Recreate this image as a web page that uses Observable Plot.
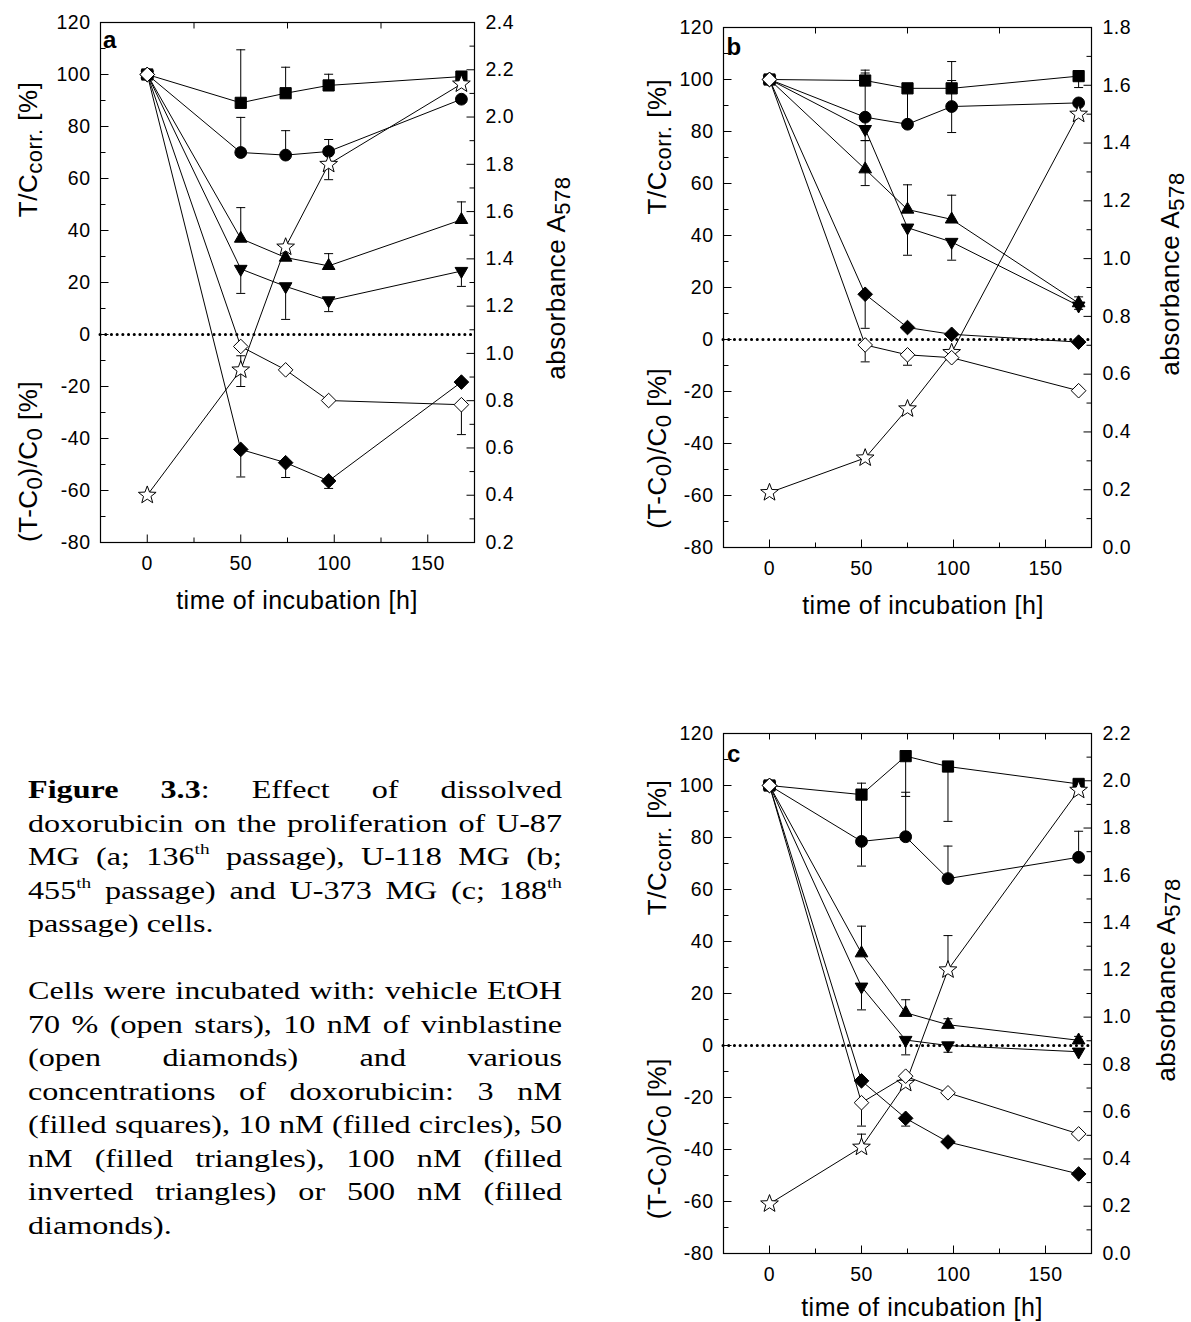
<!DOCTYPE html>
<html>
<head>
<meta charset="utf-8">
<script src="https://cdn.jsdelivr.net/npm/d3@7"></script>
<script src="https://cdn.jsdelivr.net/npm/@observablehq/plot@0.6"></script>
<style>
  html, body { margin:0; padding:0; background:#fff; }
  #page { position:relative; width:1191px; height:1322px; overflow:hidden; background:#fff; }
  .panel { position:absolute; }
  .panel svg { overflow: visible; }
  #caption { position:absolute; left:28px; top:773px; font-family:"Liberation Serif","Times New Roman",Times,serif; font-size:26px; color:#000; transform-origin:0 0; }
  #caption .ln { height:33.5px; line-height:33.5px; white-space:normal; }
  #caption .j { text-align:justify; text-align-last:justify; }
  #caption .l { text-align:left; }
  #caption .sup { font-size:0.6em; position:relative; top:-0.7em; line-height:0; }
</style>
</head>
<body>
<div id="page">
  <div id="pa" class="panel" style="left:0;top:0"></div>
  <div id="pb" class="panel" style="left:600px;top:0"></div>
  <div id="pc" class="panel" style="left:600px;top:700px"></div>
  <div id="caption"></div>
</div>
<script>
// ================= DATA =================
const xTickLabels = [0, 50, 100, 150];
const yTickLabels = [-80, -60, -40, -20, 0, 20, 40, 60, 80, 100, 120];

const hours_a = [0, 50, 74, 97, 168];
const hours_b = [0, 52, 75, 99, 168];
const hours_c = [0, 50, 74, 97, 168];

// right-axis (absorbance A578) tick labels
const absTicks_a = [0.2, 0.4, 0.6, 0.8, 1.0, 1.2, 1.4, 1.6, 1.8, 2.0, 2.2, 2.4];
const absTicks_b = [0.0, 0.2, 0.4, 0.6, 0.8, 1.0, 1.2, 1.4, 1.6, 1.8];
const absTicks_c = [0.0, 0.2, 0.4, 0.6, 0.8, 1.0, 1.2, 1.4, 1.6, 1.8, 2.0, 2.2];

// ---- panel a (U-87 MG) : T/C corr. or (T-C0)/C0 in % ----
const a_square    = [100, 89.1, 92.8, 95.8, 99.2];
const a_square_hi = [null, 109.5, 102.8, 100.1, null];
const a_circle    = [100, 70.0, 69.0, 70.4, 90.5];
const a_circle_hi = [null, 83.5, 78.4, 75.0, null];
const a_triUp     = [100, 36.9, 29.6, 26.4, 44.1];
const a_triUp_hi  = [null, 48.8, null, 31.1, 51.0];
const a_triDown   = [100, 25.2, 18.5, 13.1, 24.4];
const a_triDown_lo= [null, 15.8, 5.8, 8.8, 18.5];
const a_diaFill   = [100, -44.2, -49.3, -56.3, -18.3];
const a_diaFill_lo= [null, -54.8, -55.0, -59.2, null];
const a_diaOpen   = [100, -4.6, -13.6, -25.4, -27.0];
const a_diaOpen_lo= [null, null, null, null, -38.5];
// vehicle control (absorbance A578, right axis)
const a_star      = [0.40, 0.93, 1.45, 1.80, 2.14];
const a_star_hi   = [null, 0.99, null, null, null];
const a_star_lo   = [null, 0.86, null, 1.735, null];

// ---- panel b (U-118 MG) ----
const b_square    = [100, 99.6, 96.6, 96.6, 101.3];
const b_square_hi = [null, 103.6, null, 106.9, null];
const b_square_lo = [null, null, 83.0, null, 96.9];
const b_circle    = [100, 85.5, 82.8, 89.6, 91.0];
const b_circle_hi = [null, 102.5, null, 99.6, null];
const b_circle_lo = [null, null, null, 79.6, null];
const b_triUp     = [100, 65.5, 50.0, 46.2, 14.0];
const b_triUp_hi  = [null, 76.5, 59.5, 55.5, 16.4];
const b_triUp_lo  = [null, 59.2, null, null, null];
const b_triDown   = [100, 80.9, 43.0, 37.5, 13.0];
const b_triDown_hi= [null, 85.5, null, null, null];
const b_triDown_lo= [null, 76.5, 32.4, 30.5, 11.6];
const b_diaFill   = [100, 17.4, 4.6, 2.0, -1.0];
const b_diaFill_lo= [null, 4.3, null, null, null];
const b_diaOpen   = [100, -2.1, -5.9, -7.0, -19.7];
const b_diaOpen_lo= [null, -8.6, -9.9, null, null];
const b_star      = [0.19, 0.31, 0.48, 0.675, 1.50];

// ---- panel c (U-373 MG) ----
const c_square    = [100, 96.5, 111.3, 107.3, 100.6];
const c_square_hi = [null, 100.9, null, null, null];
const c_square_lo = [null, 78.5, 95.8, 86.2, null];
const c_circle    = [100, 78.5, 80.3, 64.2, 72.4];
const c_circle_hi = [null, null, 97.4, 76.7, 82.4];
const c_circle_lo = [null, 69.0, null, null, null];
const c_triUp     = [100, 35.5, 12.6, 8.0, 2.0];
const c_triUp_hi  = [null, 45.9, 17.6, 10.3, 3.5];
const c_triDown   = [100, 22.6, 2.1, 0.0, -2.4];
const c_triDown_lo= [null, 13.7, -3.6, -2.6, null];
const c_diaFill   = [100, -13.6, -28.0, -37.1, -49.4];
const c_diaFill_lo= [null, null, -31.0, null, null];
const c_diaOpen   = [100, -22.0, -11.8, -18.2, -34.0];
const c_diaOpen_lo= [null, -31.0, null, null, null];
const c_star      = [0.21, 0.45, 0.72, 1.20, 1.96];
const c_star_hi   = [null, 0.505, null, 1.345, null];

const captionLines = [
  ["j", "<b>Figure 3.3</b>: Effect of dissolved"],
  ["j", "doxorubicin on the proliferation of U-87"],
  ["j", "MG (a; 136<span class=\"sup\">th</span> passage), U-118 MG (b;"],
  ["j", "455<span class=\"sup\">th</span> passage) and U-373 MG (c; 188<span class=\"sup\">th</span>"],
  ["l", "passage) cells."],
  ["b", ""],
  ["j", "Cells were incubated with: vehicle EtOH"],
  ["j", "70 % (open stars), 10 nM of vinblastine"],
  ["j", "(open diamonds) and various"],
  ["j", "concentrations of doxorubicin: 3 nM"],
  ["j", "(filled squares), 10 nM (filled circles), 50"],
  ["j", "nM (filled triangles), 100 nM (filled"],
  ["j", "inverted triangles) or 500 nM (filled"],
  ["l", "diamonds)."]
];

// ================= SYMBOLS =================
const FONT = "'Liberation Sans', Arial, Helvetica, sans-serif";
const rad = s => Math.sqrt(s / Math.PI);
const symSquare = { draw(c, s) { const r = rad(s); c.rect(-r, -r, 2 * r, 2 * r); } };
const symTriUp = { draw(c, s) { const r = rad(s); c.moveTo(0, -r); c.lineTo(r * 0.866, r / 2); c.lineTo(-r * 0.866, r / 2); c.closePath(); } };
const symTriDown = { draw(c, s) { const r = rad(s); c.moveTo(0, r); c.lineTo(r * 0.866, -r / 2); c.lineTo(-r * 0.866, -r / 2); c.closePath(); } };
const symDiamond = { draw(c, s) { const r = rad(s); c.moveTo(0, -r); c.lineTo(r, 0); c.lineTo(0, r); c.lineTo(-r, 0); c.closePath(); } };
const symStar = { draw(c, s) {
  const R = rad(s), ri = R * 0.42;
  for (let i = 0; i < 10; i++) {
    const a = -Math.PI / 2 + i * Math.PI / 5, rr = i % 2 ? ri : R;
    const x = rr * Math.cos(a), y = rr * Math.sin(a);
    i ? c.lineTo(x, y) : c.moveTo(x, y);
  }
  c.closePath();
} };
const symCap = { draw(c) { c.moveTo(-4.5, 0); c.lineTo(4.5, 0); } };
const tickSym = (dx, dy) => ({ draw(c) { c.moveTo(0, 0); c.lineTo(dx, dy); } });

const STYLE = {
  square:   { symbol: symSquare,  r: 5.6, fill: "black" },
  circle:   { symbol: "circle",   r: 5.9, fill: "black" },
  triUp:    { symbol: symTriUp,   r: 7.3, fill: "black" },
  triDown:  { symbol: symTriDown, r: 7.3, fill: "black" },
  diaFill:  { symbol: symDiamond, r: 7.3, fill: "black" },
  star:     { symbol: symStar,    r: 9.3, fill: "white" },
  diaOpen:  { symbol: symDiamond, r: 7.3, fill: "white" }
};
const ORDER = ["square", "circle", "triUp", "triDown", "diaFill", "star", "diaOpen"];

function addTitle(svg, x, y, rotate, parts, size) {
  const t = d3.select(svg).append("text")
    .attr("transform", `translate(${x},${y})` + (rotate ? " rotate(-90)" : ""))
    .attr("text-anchor", "middle").attr("dy", "0.35em")
    .attr("font-family", FONT).attr("font-size", size).attr("fill", "black")
    .attr("letter-spacing", "0.5px").style("white-space", "pre");
  let shifted = false;
  for (const [txt, sub] of parts) {
    const ts = t.append("tspan").text(txt);
    if (sub) { ts.attr("font-size", size * 0.85); if (!shifted) { ts.attr("dy", 5); shifted = true; } }
    else if (shifted) { ts.attr("dy", -5); shifted = false; }
  }
}

function buildPanel(el, cfg) {
  const [amin, amax] = [cfg.absTicks[0], cfg.absTicks[cfg.absTicks.length - 1]];
  const toLeft = a => -80 + (a - amin) / (amax - amin) * 200;
  const fromLeft = v => amin + (v + 80) / 200 * (amax - amin);
  const pts = [], errs = [];
  for (const s of cfg.series) {
    const conv = s.key === "star" ? toLeft : (v => v);
    s.values.forEach((v, i) => {
      const t = cfg.hours[i];
      pts.push({ key: s.key, t, v: conv(v) });
      if (s.hi && s.hi[i] != null) errs.push({ t, y1: conv(v), y2: conv(s.hi[i]) });
      if (s.lo && s.lo[i] != null) errs.push({ t, y1: conv(v), y2: conv(s.lo[i]) });
    });
  }
  const xMin = -25, xMax = 175, yMin = yTickLabels[0], yMax = yTickLabels[yTickLabels.length - 1];
  const yMajor = yTickLabels.slice(1, -1);
  const yMinor = yTickLabels.slice(0, -1).map(v => v + 10);
  const rMajor = cfg.absTicks.slice(1, -1).map(toLeft);
  const rMinor = cfg.absTicks.slice(0, -1).map((a, i) => toLeft((a + cfg.absTicks[i + 1]) / 2));
  const xMajor = xTickLabels, xMinor = [25, 75, 125];
  const topT = cfg.topAll ? [...xMajor, ...xMinor] : xMinor;

  const tickDot = (data, x, y, sym) => Plot.dot(data, { x, y, symbol: sym, r: 1, stroke: "black", fill: "none", strokeWidth: 1 });

  const marks = [
    Plot.ruleY([0], { stroke: "black", strokeWidth: 3, strokeDasharray: "0.1,5.6", strokeLinecap: "round" }),
    Plot.line(pts, { x: "t", y: "v", z: "key", stroke: "black", strokeWidth: 1 }),
    Plot.ruleX(errs, { x: "t", y1: "y1", y2: "y2", stroke: "black", strokeWidth: 1 }),
    Plot.dot(errs, { x: "t", y: "y2", symbol: symCap, r: 1, stroke: "black", fill: "none", strokeWidth: 1 }),
    ...ORDER.map(k => Plot.dot(pts.filter(d => d.key === k), {
      x: "t", y: "v", symbol: STYLE[k].symbol, r: STYLE[k].r, fill: STYLE[k].fill, stroke: "black", strokeWidth: 1
    })),
    tickDot(yMajor, () => xMin, d => d, tickSym(8, 0)),
    tickDot(yMinor, () => xMin, d => d, tickSym(5, 0)),
    tickDot(rMajor, () => xMax, d => d, tickSym(-8, 0)),
    tickDot(rMinor, () => xMax, d => d, tickSym(-5, 0)),
    tickDot(xMajor, d => d, () => yMin, tickSym(0, -8)),
    tickDot(xMinor, d => d, () => yMin, tickSym(0, -5)),
    tickDot(topT, d => d, () => yMax, tickSym(0, 6)),
    Plot.frame({ stroke: "black", strokeWidth: 1.2 }),
    Plot.axisX({ ticks: xTickLabels, tickSize: 0, tickPadding: 14, tickFormat: d => String(d), label: null }),
    Plot.axisY({ anchor: "left", ticks: yTickLabels, tickSize: 0, tickPadding: 10, tickFormat: d => String(d), label: null }),
    Plot.axisY({ anchor: "right", ticks: cfg.absTicks.map(toLeft), tickSize: 0, tickPadding: 11, tickFormat: d => fromLeft(d).toFixed(1), label: null })
  ];

  const plot = Plot.plot({
    width: cfg.W, height: cfg.H,
    marginLeft: cfg.mL, marginRight: cfg.mR, marginTop: cfg.mT, marginBottom: cfg.mB,
    x: { domain: [xMin, xMax] }, y: { domain: [yMin, yMax] },
    style: { fontFamily: FONT, fontSize: "19.5px", color: "black", background: "transparent", overflow: "visible", letterSpacing: "0.5px" },
    marks
  });
  el.appendChild(plot);
  const X = plot.scale("x"), Y = plot.scale("y");
  const fx0 = X.apply(xMin), fx1 = X.apply(xMax), fy0 = Y.apply(yMax), fy1 = Y.apply(yMin);
  d3.select(plot).append("text").attr("x", fx0 + cfg.letterDx).attr("y", fy0 + cfg.letterDy)
    .attr("font-family", FONT).attr("font-weight", "bold").attr("font-size", 24).attr("fill", "black").text(cfg.letter);
  addTitle(plot, (fx0 + fx1) / 2 + cfg.xTitleDx, fy1 + cfg.xTitleDy, false, [["time of incubation [h]"]], 25);
  addTitle(plot, cfg.leftX, Y.apply(cfg.tcAt), true, [["T/C"], ["corr.", 1], [" [%]"]], 26);
  addTitle(plot, cfg.leftX, Y.apply(cfg.t0At), true, [["(T-C"], ["0", 1], [")/C"], ["0", 1], [" [%]"]], 26);
  addTitle(plot, cfg.rightX, Y.apply(cfg.absAt), true, [["absorbance A"], ["578", 1]], 26);
}

const registry = {
  a_square, a_square_hi, a_circle, a_circle_hi, a_triUp, a_triUp_hi, a_triDown, a_triDown_lo, a_diaFill, a_diaFill_lo, a_diaOpen, a_diaOpen_lo, a_star, a_star_hi, a_star_lo,
  b_square, b_square_hi, b_square_lo, b_circle, b_circle_hi, b_circle_lo, b_triUp, b_triUp_hi, b_triUp_lo, b_triDown, b_triDown_hi, b_triDown_lo, b_diaFill, b_diaFill_lo, b_diaOpen, b_diaOpen_lo, b_star,
  c_square, c_square_hi, c_square_lo, c_circle, c_circle_hi, c_circle_lo, c_triUp, c_triUp_hi, c_triDown, c_triDown_lo, c_diaFill, c_diaFill_lo, c_diaOpen, c_diaOpen_lo, c_star, c_star_hi
};
function series(p) {
  return ORDER.map(k => ({ key: k, values: registry[`${p}_${k}`], hi: registry[`${p}_${k}_hi`] || null, lo: registry[`${p}_${k}_lo`] || null }));
}

buildPanel(document.getElementById("pa"), {
  W: 600, H: 640, mL: 100, mR: 126, mT: 22, mB: 98,
  hours: hours_a, absTicks: absTicks_a, series: series("a"), topAll: false,
  letter: "a", letterDx: 10, letterDy: 26, xTitleDx: 10, xTitleDy: 58,
  leftX: 28, rightX: 556, tcAt: 71, t0At: -49, absAt: 21.5
});
buildPanel(document.getElementById("pb"), {
  W: 591, H: 640, mL: 123, mR: 100, mT: 27, mB: 93,
  hours: hours_b, absTicks: absTicks_b, series: series("b"), topAll: false,
  letter: "b", letterDx: 11, letterDy: 28, xTitleDx: 16, xTitleDy: 58,
  leftX: 57, rightX: 570, tcAt: 74, t0At: -42, absAt: 25
});
buildPanel(document.getElementById("pc"), {
  W: 591, H: 622, mL: 123, mR: 100, mT: 33, mB: 69,
  hours: hours_c, absTicks: absTicks_c, series: series("c"), topAll: true,
  letter: "c", letterDx: 11, letterDy: 29, xTitleDx: 15, xTitleDy: 54,
  leftX: 57, rightX: 566, tcAt: 76, t0At: -36, absAt: 25
});

// ================= CAPTION =================
(function () {
  const CAPTION_WIDTH = 534;
  const capEl = document.getElementById("caption");
  const meas = document.createElement("span");
  meas.style.cssText = "position:absolute;visibility:hidden;white-space:nowrap;";
  capEl.appendChild(meas);
  let maxW = 0;
  for (const [kind, html] of captionLines) {
    if (kind === "j") { meas.innerHTML = html; maxW = Math.max(maxW, meas.getBoundingClientRect().width); }
  }
  capEl.removeChild(meas);
  const W = Math.ceil(maxW) + 1;
  for (const [kind, html] of captionLines) {
    const d = document.createElement("div");
    d.className = "ln " + kind;
    d.style.width = W + "px";
    d.innerHTML = html || "&nbsp;";
    capEl.appendChild(d);
  }
  capEl.style.transform = `scaleX(${CAPTION_WIDTH / W})`;
})();
</script>
</body>
</html>
